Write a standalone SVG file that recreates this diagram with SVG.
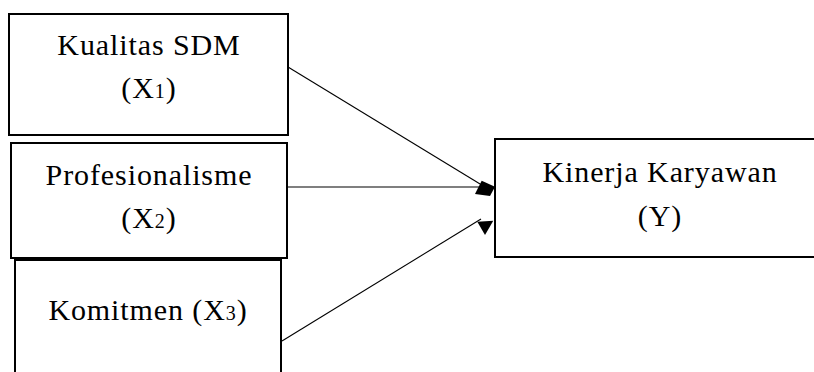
<svg xmlns="http://www.w3.org/2000/svg" width="814" height="372" viewBox="0 0 814 372">
  <style>
    .box { fill: #ffffff; stroke: #000000; stroke-width: 2; }
    .lbl { font-family: "Liberation Serif", "DejaVu Serif", serif; font-size: 30px; fill: #000000; text-anchor: middle; letter-spacing: 0.9px; }
    .sub { font-size: 20px; }
    .edge { stroke: #000000; stroke-width: 1.1; fill: none; }
    .head { fill: #000000; stroke: none; }
  </style>

  <!-- variables -->
  <g id="node-x1">
    <rect class="box" x="9" y="14" width="279" height="121"/>
    <text class="lbl" x="149" y="55">Kualitas SDM</text>
    <text class="lbl" x="149" y="98">(X<tspan class="sub">1</tspan>)</text>
  </g>
  <g id="node-x2">
    <rect class="box" x="11" y="143" width="276" height="115"/>
    <text class="lbl" x="149" y="185">Profesionalisme</text>
    <text class="lbl" x="149" y="228">(X<tspan class="sub">2</tspan>)</text>
  </g>
  <g id="node-x3">
    <rect class="box" x="15" y="260" width="266" height="130"/>
    <text class="lbl" x="148" y="320">Komitmen (X<tspan class="sub">3</tspan>)</text>
  </g>
  <g id="node-y">
    <rect class="box" x="495" y="139" width="330" height="118"/>
    <text class="lbl" x="660" y="182">Kinerja Karyawan</text>
    <text class="lbl" x="660" y="226">(Y)</text>
  </g>

  <!-- paths -->
  <g id="connectors">
    <line class="edge" x1="288" y1="67" x2="485" y2="187"/>
    <line class="edge" x1="288" y1="187" x2="490" y2="187"/>
    <line class="edge" x1="282" y1="341" x2="481" y2="219"/>
    <polygon class="head" points="481.7,180.7 495,186.7 490,196 475,194"/>
    <polygon class="head" points="477.3,221.7 493.3,220.7 485,235"/>
  </g>
</svg>
